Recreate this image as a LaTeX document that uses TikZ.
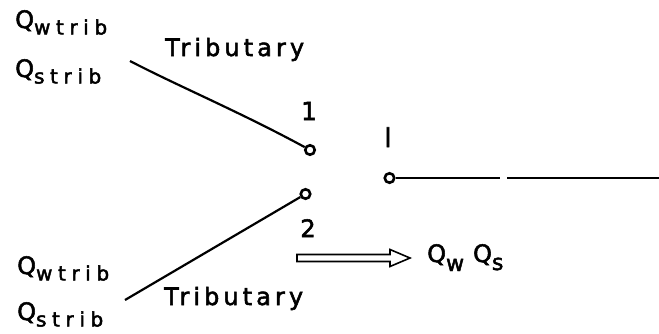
\documentclass[tikz,border=0pt]{standalone}
\usepackage{fontspec}
\setmainfont{DejaVu Sans}
\newfontfamily\pf[FakeBold=2.2]{DejaVu Sans}
\newfontfamily\pfsub[FakeBold=2.2,LetterSpace=28]{DejaVu Sans}
\newfontfamily\pftrib[FakeBold=2.2,LetterSpace=17]{DejaVu Sans}
\newcommand\qlabel[1]{{\fontsize{24}{24}\pf Q}\raisebox{-6.5pt}{\fontsize{20}{20}\pfsub #1}}
\tikzset{
  lbl/.style={inner sep=0pt, anchor=base west},
  num/.style={inner sep=0pt, anchor=base},
  term/.style={circle, draw, line width=2.6pt, minimum size=9.5pt, inner sep=0pt},
  wire/.style={line width=2.2pt},
  hollow/.style={line width=1.6pt, line join=miter}
}
\begin{document}
\begin{tikzpicture}[x=1pt,y=-1pt]
\useasboundingbox (0,0) rectangle (659,333);
% labels
\node[lbl] (qw1) at (15,28) {\qlabel{wtrib}};
\node[lbl] (qs1) at (15,77) {\qlabel{strib}};
\node[lbl] (qw2) at (17,274) {\qlabel{wtrib}};
\node[lbl] (qs2) at (17,320) {\qlabel{strib}};
\node[lbl] (tr1) at (165,56) {\fontsize{24}{24}\pftrib Tributary};
\node[lbl] (tr2) at (164,305) {\fontsize{24}{24}\pftrib Tributary};
\node[num, font=\fontsize{25}{25}\pf] (n1) at (309,120) {1};
\node[num, font=\fontsize{26}{26}\pf] (nl) at (388,147) {l};
\node[num, font=\fontsize{24}{24}\pf] (n2) at (308,237) {2};
\node[lbl] (out) at (427,262) {\fontsize{24}{24}\pf Q\raisebox{-9pt}{\fontsize{22}{22}\pf w}\kern9pt Q\raisebox{-8pt}{\fontsize{22}{22}\pf s}};
% terminals
\node[term] (t1) at (310,150) {};
\node[term] (t2) at (305.5,194) {};
\node[term] (t3) at (389.5,178) {};
\coordinate (s1) at (130,61);
\coordinate (s2) at (125,300);
\coordinate (g1) at (500,178);
\coordinate (g2) at (507,178);
\coordinate (e) at (659,178);
% wires
\draw[wire] (s1) .. controls (178,86) and (240,112) .. (t1);
\draw[wire] (s2) -- (t2);
\draw[wire] (t3) -- (g1);
\draw[wire] (g2) -- (e);
% hollow arrow
\draw[hollow] (297,254.5) -- (390,254.5) -- (390,249.5) -- (410,258) -- (390,266.5) -- (390,261.5) -- (297,261.5) -- cycle;
\end{tikzpicture}
\end{document}
